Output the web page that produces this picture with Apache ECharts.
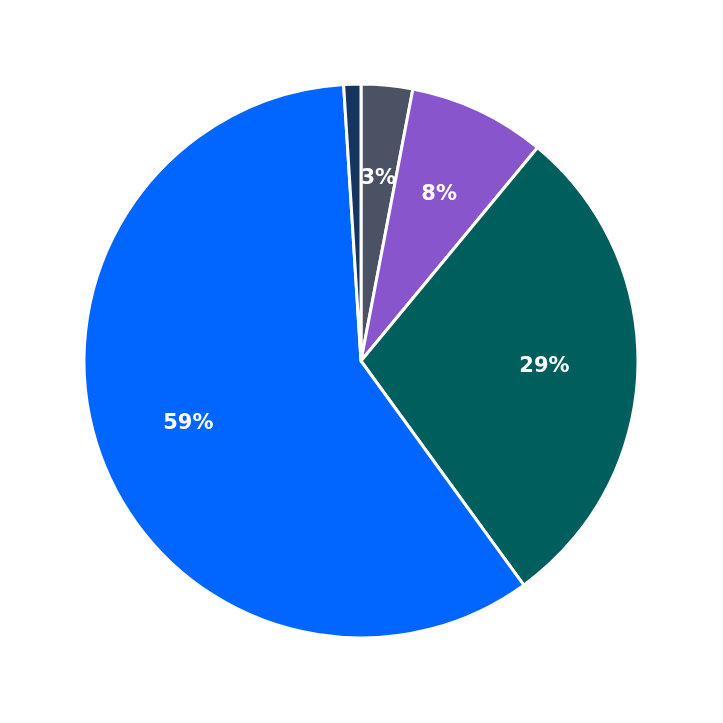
<!DOCTYPE html>
<html><head><meta charset="utf-8">
<script src="https://cdn.jsdelivr.net/npm/echarts@6/dist/echarts.min.js"></script>
<style>html,body{margin:0;padding:0;background:#fff}#c{width:723px;height:723px}</style>
</head><body><div id="c"></div>
<script>
const categories = ['A','B','C','D','E'];
const values = [3, 8, 29, 59, 1];
const colors = ['#4a5263','#8855cc','#005f5c','#0066ff','#15355e'];
const data = categories.map((c,i)=>({name:c,value:values[i],itemStyle:{color:colors[i]}}));
const chart = echarts.init(document.getElementById('c'));
chart.setOption({
  animation:false,
  series:[
    {type:'pie',center:[361,361],radius:[0,277],startAngle:90,clockwise:true,
     data:data,itemStyle:{borderColor:'#fff',borderWidth:3},label:{show:false},labelLine:{show:false},silent:true},
    {type:'pie',center:[361,361],radius:[84,277],startAngle:90,clockwise:true,
     data:data.map(d=>({name:d.name,value:d.value,itemStyle:{color:'rgba(0,0,0,0)'}})),
     itemStyle:{borderWidth:0},silent:true,
     label:{show:true,position:'inside',color:'#fff',fontSize:21,fontWeight:'bold',fontFamily:'DejaVu Sans',
       formatter:p=>Math.round(p.percent)+'%'},labelLine:{show:false}}
  ]
});
</script></body></html>
